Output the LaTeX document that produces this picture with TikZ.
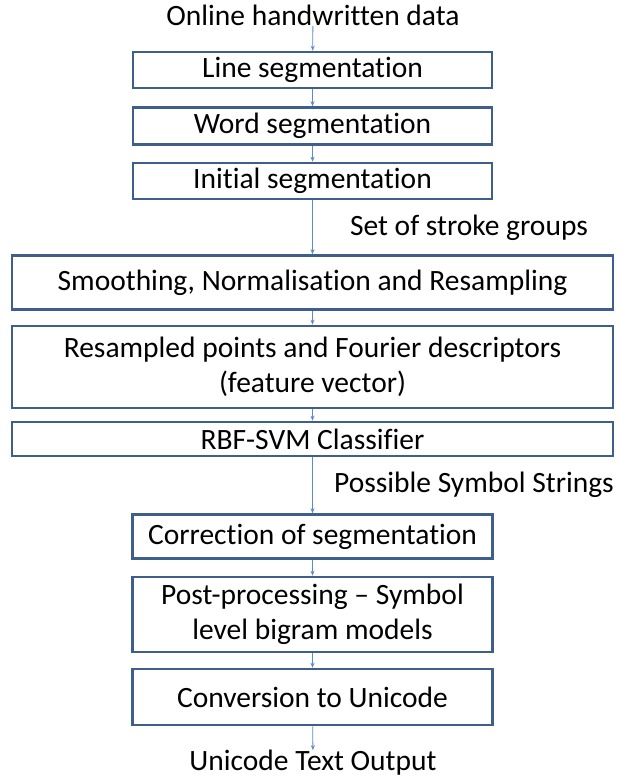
\documentclass[tikz,border=0pt]{standalone}
\usepackage{fontspec}
\setmainfont{Carlito}[Ligatures=NoCommon]
\usetikzlibrary{arrows.meta}
\definecolor{boxblue}{HTML}{3E5E8C}
\definecolor{arrblue}{HTML}{5B8BC8}
\begin{document}
\begin{tikzpicture}[x=1pt,y=-1pt,
  stagebox/.style={draw=boxblue, line width=2.6pt, fill=white, align=center, inner sep=0pt, font=\fontsize{29.5}{35}\selectfont},
  lbl/.style={inner sep=0pt, font=\fontsize{29.5}{35}\selectfont},
  flow/.style={draw=arrblue, line width=0.8pt, -{Stealth[length=5pt,width=4pt]}}]
\useasboundingbox (0,0) rectangle (629,783);
\node[lbl] (in) at (313,15) {Online handwritten data};
\node[stagebox, minimum width=359pt, minimum height=36pt] (b1) at (312.5,70) {Line segmentation};
\node[stagebox, minimum width=359pt, minimum height=37pt] (b2) at (312.5,126) {Word segmentation};
\node[stagebox, minimum width=359pt, minimum height=36pt] (b3) at (312.5,181) {Initial segmentation};
\node[lbl] (l1) at (469,228) {Set of stroke groups};
\node[stagebox, minimum width=601pt, minimum height=54pt] (b4) at (312.5,282.5) {Smoothing, Normalisation and Resampling};
\node[stagebox, minimum width=601pt, minimum height=82pt] (b5) at (312.5,367) {Resampled points and Fourier descriptors\\(feature vector)};
\node[stagebox, minimum width=601pt, minimum height=34pt] (b6) at (312.5,439) {RBF-SVM Classifier};
\node[lbl] (l2) at (474,485) {Possible Symbol Strings};
\node[stagebox, minimum width=360pt, minimum height=44pt] (b7) at (312.5,536.5) {Correction of segmentation};
\node[stagebox, minimum width=360pt, minimum height=75pt] (b8) at (312.5,614.5) {Post-processing -- Symbol\\level bigram models};
\node[stagebox, minimum width=360pt, minimum height=56pt] (b9) at (312.5,697) {Conversion to Unicode};
\node[lbl] (out) at (313,763) {Unicode Text Output};
\draw[flow] (in) -- (b1);
\draw[flow] (b1) -- (b2);
\draw[flow] (b2) -- (b3);
\draw[flow] (b3) -- (b4);
\draw[flow] (b4) -- (b5);
\draw[flow] (b5) -- (b6);
\draw[flow] (b6) -- (b7);
\draw[flow] (b7) -- (b8);
\draw[flow] (b8) -- (b9);
\draw[flow] (b9) -- (out);
\end{tikzpicture}
\end{document}
